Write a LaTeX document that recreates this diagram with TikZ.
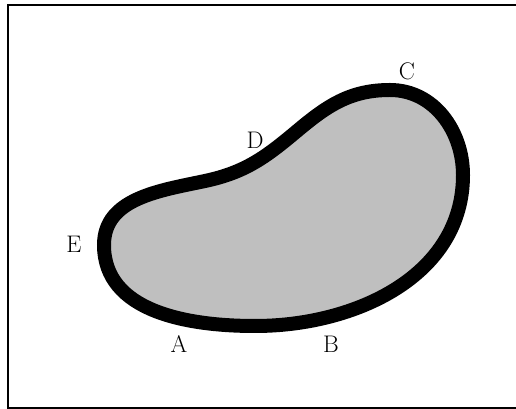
\documentclass[tikz,border=0pt]{standalone}
\usetikzlibrary{positioning}

\tikzset{
  blob/.style={line width=14pt, fill=black!25, draw=black},
  lbl/.style={font=\fontsize{24}{27}\selectfont, inner sep=0pt},
  frame/.style={line width=1.3pt, draw=black}
}

\begin{document}
\begin{tikzpicture}[x=1pt, y=1pt]
\useasboundingbox (0,0) rectangle (516,409);
\draw[frame] (530,404) -- (8,404) -- (8,1) -- (530,1);
% the closed curve
\draw[blob] (104,164) to[out=90,in=192] (205,228) to[out=12,in=220] (297,278)
  to[out=40,in=180] (390,319) to[out=0,in=90] (463,234)
  to[out=-90,in=0] (255,83) to[out=180,in=-90] cycle;
% point labels
\node[lbl] (A) at (179,65) {A};
\node[lbl] (B) at (331,65) {B};
\node[lbl] (C) at (407,338) {C};
\node[lbl] (D) at (255,269) {D};
\node[lbl] (E) at (74,165) {E};
\end{tikzpicture}
\end{document}
